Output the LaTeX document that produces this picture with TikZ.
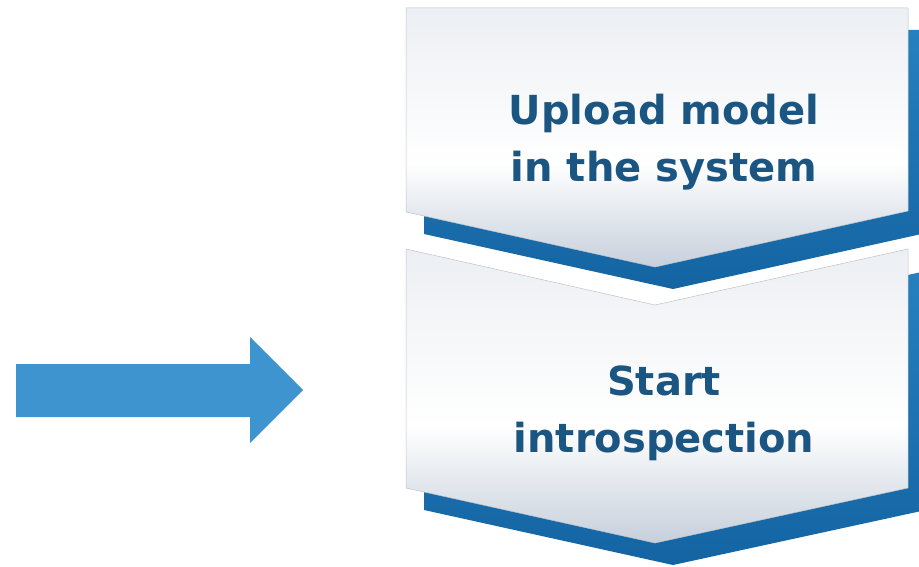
\documentclass[tikz,border=0pt]{standalone}
\usepackage{fontspec}
\setmainfont{DejaVu Sans}
\usetikzlibrary{positioning}
\definecolor{StepBlue}{RGB}{27,85,130}
\definecolor{ArrowBlue}{RGB}{61,148,206}
\definecolor{BackTop}{RGB}{38,128,192}
\definecolor{BackBottom}{RGB}{20,100,162}
\definecolor{PanelTop}{RGB}{236,239,243}
\definecolor{PanelBottom}{RGB}{198,208,220}
\definecolor{PanelEdge}{RGB}{190,195,200}
\pgfdeclareverticalshading{panelshade}{100bp}{
  color(0bp)=(PanelBottom); color(25bp)=(PanelBottom);
  color(45bp)=(white); color(75bp)=(PanelTop); color(100bp)=(PanelTop)}

\begin{document}
\begin{tikzpicture}[x=1pt, y=-1pt,
    panel/.style={shading=panelshade, draw=PanelEdge, line width=0.5pt},
    backplate/.style={top color=BackTop, bottom color=BackBottom},
    steplabel/.style={
      text=StepBlue, align=center, inner sep=0pt,
      font=\fontsize{40}{57}\selectfont\bfseries
    },
    bigarrow/.style={fill=ArrowBlue}
  ]
    \useasboundingbox (0,0) rectangle (919,567);
    \clip (0,0) rectangle (919,567);

    % first step
    \path[backplate] (424,30) -- (926,30) -- (926,233) -- (673,289) -- (424,234) -- cycle;
    \path[panel] (406,8) -- (908,8) -- (908,211) -- (655,267) -- (406,212) -- cycle;
    \node[steplabel] (upload) at (664,142) {Upload model\\in the system};

    % second step
    \path[backplate] (424,271) -- (673,327) -- (926,271) -- (926,510) -- (673,565) -- (424,510) -- cycle;
    \path[panel] (406,249) -- (655,305) -- (908,249) -- (908,488) -- (655,543) -- (406,488) -- cycle;
    \node[steplabel] (introspect) at (664,413) {Start\\introspection};

    % arrow
    \path[bigarrow] (16,364) -- (250,364) -- (250,337) -- (303,390) -- (250,443) -- (250,417) -- (16,417) -- cycle;
  \end{tikzpicture}
\end{document}
